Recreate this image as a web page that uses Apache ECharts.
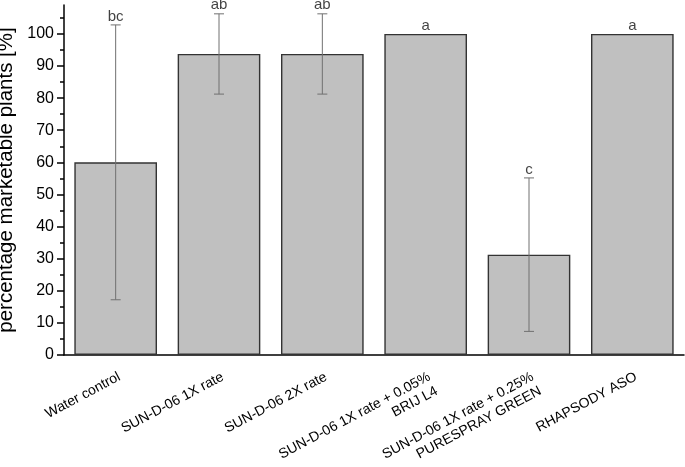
<!DOCTYPE html>
<html><head><meta charset="utf-8">
<script src="https://cdn.jsdelivr.net/npm/echarts@6/dist/echarts.min.js"></script>
<style>html,body{margin:0;padding:0;background:#fff}#c{width:685px;height:467px}</style>
</head><body><div id="c"></div>
<script>
var categories = ["Water control", "SUN-D-06 1X rate", "SUN-D-06 2X rate", "SUN-D-06 1X rate + 0.05%\nBRIJ L4", "SUN-D-06 1X rate + 0.25%\nPURESPRAY GREEN", "RHAPSODY ASO"];
var means = [60, 93.75, 93.75, 100, 31.25, 100];
var errors = [42.8, 12.5, 12.5, 0, 23.9, 0];
var letters = ["bc", "ab", "ab", "a", "c", "a"];
var majorTicks = [0, 10, 20, 30, 40, 50, 60, 70, 80, 90, 100];
var minorTicks = [5, 15, 25, 35, 45, 55, 65, 75, 85, 95, 105];

var chart = echarts.init(document.getElementById('c'));
var errData = means.map(function (m, i) { return [i, m - errors[i], m + errors[i], errors[i]]; });
var letterData = means.map(function (m, i) { return [i, m + errors[i]]; });
var FONT = '"Liberation Sans", Arial, sans-serif';

chart.setOption({
  animation: false,
  grid: { left: 64, right: 1, top: 5, bottom: 112, outerBoundsMode: 'none', containLabel: false },
  xAxis: {
    type: 'category', data: categories,
    axisLine: { lineStyle: { color: '#000', width: 1.5 } },
    axisTick: { alignWithLabel: true, length: 6, lineStyle: { color: '#000', width: 1.5 } },
    axisLabel: {
      rotate: 28, interval: 0, margin: 14, verticalAlign: 'top', color: '#000', fontSize: 14, fontFamily: FONT, lineHeight: 16
    }
  },
  yAxis: [{
    type: 'value', min: 0, max: 109, interval: 10,
    name: 'percentage marketable plants [%]', nameLocation: 'middle', nameGap: 40,
    nameTextStyle: { fontSize: 20.5, fontFamily: FONT, color: '#000' },
    axisLine: { show: true, lineStyle: { color: '#000', width: 1.5 } },
    axisTick: { show: true, length: 7, customValues: majorTicks, lineStyle: { color: '#000', width: 1.5 } },
    axisLabel: { customValues: majorTicks, fontSize: 16, fontFamily: FONT, color: '#000', margin: 10 },
    splitLine: { show: false }
  }, {
    type: 'value', min: 0, max: 109, position: 'left',
    axisLine: { show: false },
    axisTick: { show: true, length: 4, customValues: minorTicks, lineStyle: { color: '#000', width: 1.5 } },
    axisLabel: { show: false },
    splitLine: { show: false }
  }],
  series: [{
    type: 'bar', data: means, barWidth: '80%',
    itemStyle: { color: '#c0c0c0', borderColor: '#333', borderWidth: 1.4 }
  }, {
    type: 'custom', data: errData,
    renderItem: function (params, api) {
      if (api.value(3) <= 0) return { type: 'group', children: [] };
      var x = api.value(0);
      var lo = api.coord([x, api.value(1)]);
      var hi = api.coord([x, api.value(2)]);
      var w = 5;
      var st = { stroke: '#707070', lineWidth: 1 };
      return { type: 'group', children: [
        { type: 'line', shape: { x1: lo[0], y1: lo[1], x2: hi[0], y2: hi[1] }, style: st },
        { type: 'line', shape: { x1: lo[0] - w, y1: lo[1], x2: lo[0] + w, y2: lo[1] }, style: st },
        { type: 'line', shape: { x1: hi[0] - w, y1: hi[1], x2: hi[0] + w, y2: hi[1] }, style: st }
      ] };
    },
    z: 5
  }, {
    type: 'scatter', data: letterData, symbolSize: 0,
    label: { show: true, position: 'top', distance: 1, color: '#111', fontSize: 15, fontFamily: FONT,
      formatter: function (p) { return letters[p.dataIndex]; } },
    z: 6
  }]
});
</script></body></html>
